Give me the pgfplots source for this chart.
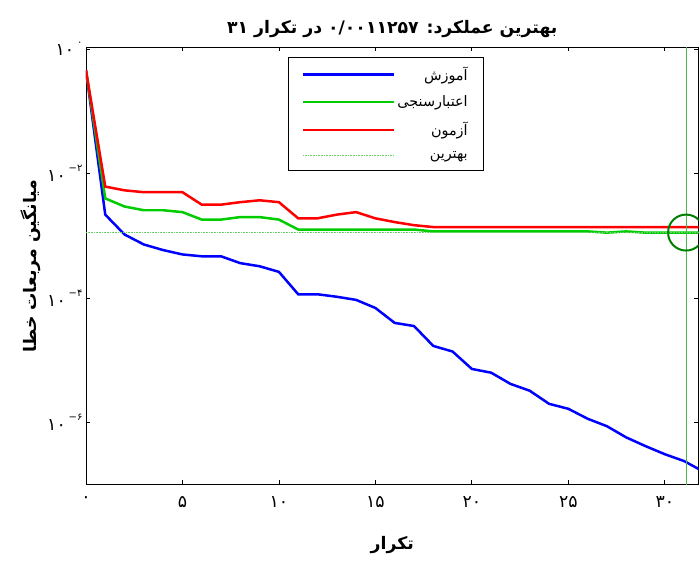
\documentclass[border=0pt]{standalone}
\usepackage{pgfplots}
\pgfplotsset{compat=1.18}
\usepackage{fontspec}
\TeXXeTstate=1
\setmainfont{DejaVu Sans}
\newfontfamily\fa[Script=Arabic]{DejaVu Sans}
\newcommand{\R}[1]{{\fa\bfseries\beginR #1\endR}}
\newcommand{\N}[1]{{\fa\beginR #1\endR}}
\newcommand{\ex}[2]{{\fa #1\,\raisebox{1.1ex}{\normalsize #2}}}
\begin{document}
\begin{tikzpicture}
\path (0,0) rectangle (699pt,564pt);
\begin{axis}[at={(86pt,79pt)}, anchor=south west,
  scale only axis, width=613pt, height=438pt,
  ymode=log, xmin=0, xmax=31.75, ymin=1e-7, ymax=1.08,
  xtick={0,5,10,15,20,25,30},
  xticklabels={\N{۰},\N{۵},\N{۱۰},\N{۱۵},\N{۲۰},\N{۲۵},\N{۳۰}},
  ytick={1,1e-2,1e-4,1e-6},
  yticklabels={\ex{۱۰}{۰},\ex{۱۰}{{\fontspec{DejaVu Sans}\char"2212}۲},\ex{۱۰}{{\fontspec{DejaVu Sans}\char"2212}۴},\ex{۱۰}{{\fontspec{DejaVu Sans}\char"2212}۶}},
  minor ytick={}, tick align=inside, tick style={black, thick},
  axis line style={thick},
  ticklabel style={font=\LARGE},
  xticklabel style={yshift=-8pt},
  xlabel={\R{تکرار}}, ylabel={\R{میانگین مربعات خطا}},
  xlabel style={font=\LARGE, yshift=-22pt}, ylabel style={font=\LARGE},
  title={\R{بهترین عملکرد: \beginL۰/۰۰۱۱۲۵۷\endL{} در تکرار \beginL۳۱\endL}},
  title style={font=\LARGE, yshift=0pt},
  clip marker paths=true,
  legend style={at={(0.329,0.978)}, anchor=north west, font=\Large, cells={anchor=east}, row sep=10pt, inner xsep=14pt, inner ysep=8pt, draw=black, line width=0.8pt},
  legend cell align=right,
]
\addplot[blue, line width=2.5pt, legend image code/.code={\draw[blue, line width=2.5pt] (0cm,0cm) -- (3.2cm,0cm);}] coordinates {
(0,4.6e-1)(1,10^-2.66)(2,10^-2.98)(3,10^-3.14)(4,10^-3.23)(5,10^-3.30)(6,10^-3.33)(7,10^-3.33)(8,10^-3.44)(9,10^-3.49)(10,10^-3.58)(11,10^-3.94)(12,10^-3.94)(13,10^-3.98)(14,10^-4.03)(15,10^-4.16)(16,10^-4.40)(17,10^-4.45)(18,10^-4.77)(19,10^-4.86)(20,10^-5.14)(21,10^-5.20)(22,10^-5.38)(23,10^-5.49)(24,10^-5.70)(25,10^-5.78)(26,10^-5.94)(27,10^-6.06)(28,10^-6.24)(29,10^-6.38)(30,10^-6.51)(31,10^-6.62)(32,10^-6.79)};
\addlegendentry{\N{آموزش}}
\addplot[green!80!black, line width=2.5pt, legend image code/.code={\draw[green!80!black, line width=2.5pt] (0cm,0cm) -- (3.2cm,0cm);}] coordinates {
(0,4.6e-1)(1,10^-2.40)(2,10^-2.53)(3,10^-2.59)(4,10^-2.59)(5,10^-2.62)(6,10^-2.74)(7,10^-2.74)(8,10^-2.70)(9,10^-2.70)(10,10^-2.74)(11,10^-2.90)(12,10^-2.90)(13,10^-2.90)(14,10^-2.90)(15,10^-2.90)(16,10^-2.90)(17,10^-2.90)(18,10^-2.93)(19,10^-2.93)(20,10^-2.93)(21,10^-2.93)(22,10^-2.93)(23,10^-2.93)(24,10^-2.93)(25,10^-2.93)(26,10^-2.93)(27,10^-2.95)(28,10^-2.93)(29,10^-2.95)(30,10^-2.95)(31,10^-2.95)(32,10^-2.95)};
\addlegendentry{\N{اعتبارسنجی}}
\addplot[red, line width=2.5pt, legend image code/.code={\draw[red, line width=2.5pt] (0cm,0cm) -- (3.2cm,0cm);}] coordinates {
(0,4.6e-1)(1,10^-2.21)(2,10^-2.27)(3,10^-2.30)(4,10^-2.30)(5,10^-2.30)(6,10^-2.50)(7,10^-2.50)(8,10^-2.46)(9,10^-2.43)(10,10^-2.46)(11,10^-2.72)(12,10^-2.72)(13,10^-2.66)(14,10^-2.62)(15,10^-2.72)(16,10^-2.78)(17,10^-2.83)(18,10^-2.86)(19,10^-2.86)(25,10^-2.86)(31,10^-2.86)(32,10^-2.86)};
\addlegendentry{\N{آزمون}}
\addplot[green!70!black!60, densely dotted, line width=0.6pt, legend image code/.code={\draw[green!70!black!60, densely dotted, line width=0.6pt] (0cm,0cm) -- (3.2cm,0cm);}] coordinates {(0,1.1257e-3)(32,1.1257e-3)};
\addlegendentry{\N{بهترین}}
\addplot[green!60!black!70, line width=0.4pt, forget plot] coordinates {(31.1,1e-7)(31.1,1.08)};
\addplot[only marks, mark=o, mark size=18pt, green!50!black, line width=2pt, forget plot] coordinates {(31.1,1.1257e-3)};
\end{axis}
\end{tikzpicture}
\end{document}
